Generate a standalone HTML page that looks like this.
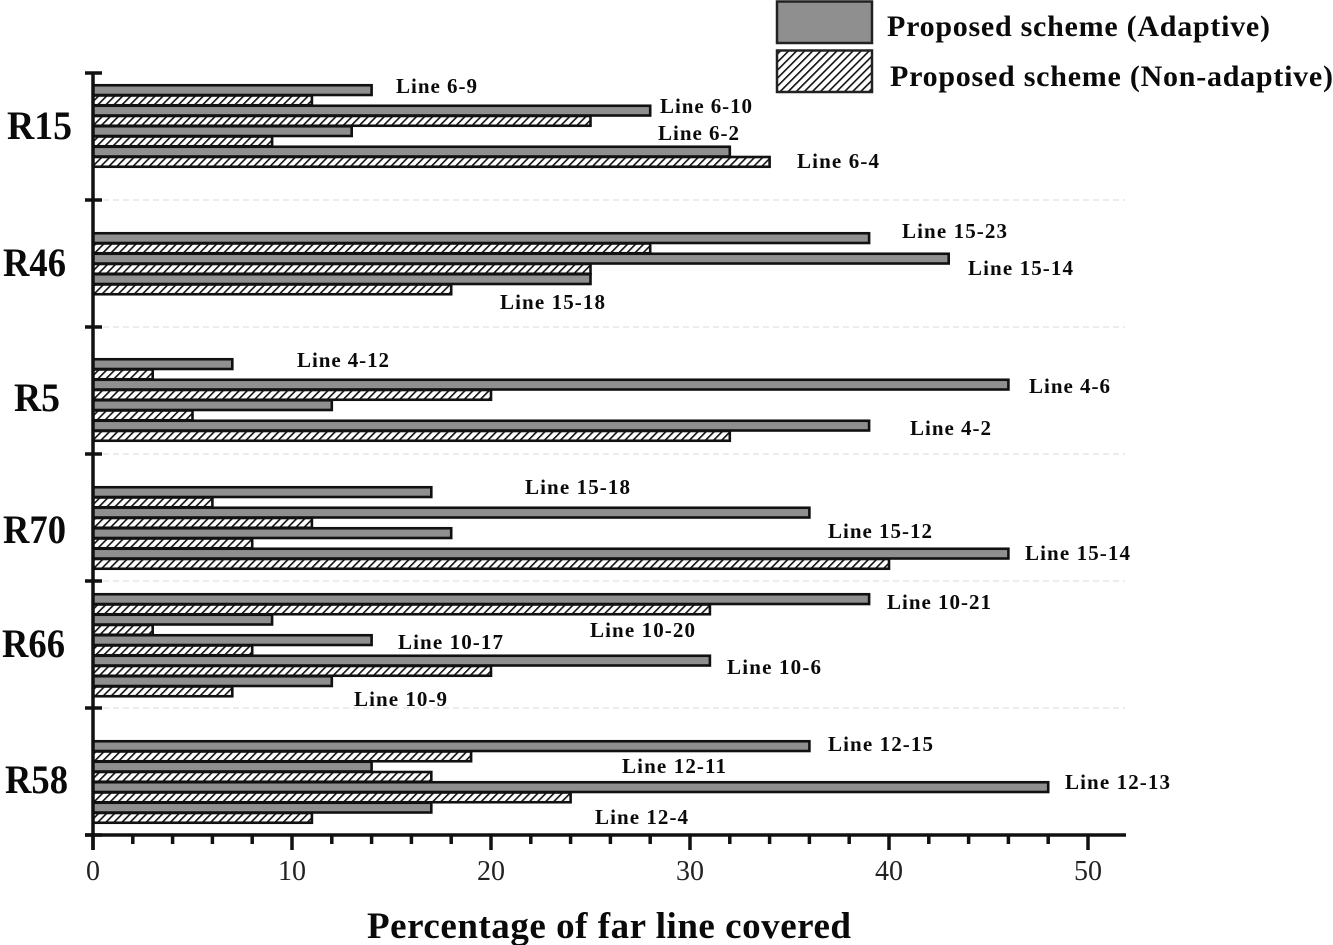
<!DOCTYPE html>
<html lang="en">
<head>
<meta charset="utf-8">
<title>Percentage of far line covered</title>
<style>
html,body{margin:0;padding:0;background:#fff;width:1333px;height:945px;overflow:hidden}
svg{display:block}
text{font-family:"Liberation Serif",serif;fill:#0a0a0a}
.ann{font-size:21px;font-weight:bold}
.grp{font-size:40px;font-weight:bold}
.leg{font-size:30px;font-weight:bold}
.tick{font-size:28px;text-anchor:middle;fill:#222}
</style>
</head>
<body>
<svg id="chart" xmlns="http://www.w3.org/2000/svg" width="1333" height="945" viewBox="0 0 1333 945">
  <defs>
    <pattern id="hatch" patternUnits="userSpaceOnUse" width="5.7" height="5.7" patternTransform="rotate(45)">
      <rect width="5.7" height="5.7" fill="#fff"></rect>
      <rect x="0" y="0" width="1.6" height="5.7" fill="#111"></rect>
    </pattern>
  </defs>
  <g id="grid"></g>
  <g id="bars"></g>
  <g id="axes"></g>

  <g>
    <rect x="777" y="1.5" width="95" height="41.5" fill="#8f8f8f" stroke="#222" stroke-width="2.5"></rect>
    <text class="leg" x="887" y="36" textLength="383" lengthAdjust="spacing">Proposed scheme (Adaptive)</text>
    <rect x="777" y="50.5" width="95" height="41.5" fill="url(#hatch)" stroke="#222" stroke-width="2.5"></rect>
    <text class="leg" x="890" y="86" textLength="443" lengthAdjust="spacing">Proposed scheme (Non-adaptive)</text>
  </g>

  <g>
    <text class="grp" x="7" y="139" textLength="65" lengthAdjust="spacingAndGlyphs">R15</text>
    <text class="grp" x="3" y="276" textLength="63" lengthAdjust="spacingAndGlyphs">R46</text>
    <text class="grp" x="14" y="411" textLength="46" lengthAdjust="spacingAndGlyphs">R5</text>
    <text class="grp" x="3" y="543" textLength="63" lengthAdjust="spacingAndGlyphs">R70</text>
    <text class="grp" x="2" y="657" textLength="63" lengthAdjust="spacingAndGlyphs">R66</text>
    <text class="grp" x="5" y="793" textLength="63" lengthAdjust="spacingAndGlyphs">R58</text>
  </g>

  <g transform="translate(0,1)">
    <text class="ann" x="396" y="92" textLength="81">Line 6-9</text>
    <text class="ann" x="660" y="112" textLength="92">Line 6-10</text>
    <text class="ann" x="658" y="139" textLength="81">Line 6-2</text>
    <text class="ann" x="797" y="167" textLength="82">Line 6-4</text>
    <text class="ann" x="902" y="237" textLength="105">Line 15-23</text>
    <text class="ann" x="968" y="274" textLength="105">Line 15-14</text>
    <text class="ann" x="500" y="308" textLength="105">Line 15-18</text>
    <text class="ann" x="297" y="366" textLength="92">Line 4-12</text>
    <text class="ann" x="1029" y="392" textLength="81">Line 4-6</text>
    <text class="ann" x="910" y="434" textLength="81">Line 4-2</text>
    <text class="ann" x="525" y="493" textLength="105">Line 15-18</text>
    <text class="ann" x="828" y="537" textLength="104">Line 15-12</text>
    <text class="ann" x="1025" y="559" textLength="105">Line 15-14</text>
    <text class="ann" x="887" y="608" textLength="104">Line 10-21</text>
    <text class="ann" x="590" y="636" textLength="105">Line 10-20</text>
    <text class="ann" x="398" y="648" textLength="105">Line 10-17</text>
    <text class="ann" x="727" y="673" textLength="94">Line 10-6</text>
    <text class="ann" x="354" y="705" textLength="93">Line 10-9</text>
    <text class="ann" x="828" y="750" textLength="105">Line 12-15</text>
    <text class="ann" x="622" y="772" textLength="104">Line 12-11</text>
    <text class="ann" x="1065" y="788" textLength="105">Line 12-13</text>
    <text class="ann" x="595" y="823" textLength="93">Line 12-4</text>
  </g>

  <text x="367" y="938" font-size="37" font-weight="bold" textLength="484" lengthAdjust="spacing">Percentage of far line covered</text>
</svg>

<script>
// Chart data (top to bottom within each group: one adaptive / non-adaptive pair per line)
var groups = ['R15', 'R46', 'R5', 'R70', 'R66', 'R58'];
var adaptive = [
  [14, 28, 13, 32],
  [39, 43, 25],
  [7, 46, 12, 39],
  [17, 36, 18, 46],
  [39, 9, 14, 31, 12],
  [36, 14, 48, 17]
];
var nonAdaptive = [
  [11, 25, 9, 34],
  [28, 25, 18],
  [3, 20, 5, 32],
  [6, 11, 8, 40],
  [31, 3, 8, 20, 7],
  [19, 17, 24, 11]
];
var xTickLabels = [0, 10, 20, 30, 40, 50];

var NS = 'http://www.w3.org/2000/svg';
var X0 = 93, X_UNIT = 19.9, Y_TOP = 73, BAND = 127, BAR_H = 10.25, X_END = 1125;
// Vertical inset of each group's first bar inside its axis band (layout only).
var groupInset = [12, 33, 32, 33, 13, 33];

function xScale(v) { return X0 + v * X_UNIT; }
function bandTop(i) { return Y_TOP + i * BAND; }

function make(tag, attrs, parent) {
  var el = document.createElementNS(NS, tag);
  for (var k in attrs) { el.setAttribute(k, attrs[k]); }
  parent.appendChild(el);
  return el;
}

var gridG = document.getElementById('grid');
var barsG = document.getElementById('bars');
var axesG = document.getElementById('axes');

// dashed separators between groups
groups.forEach(function (g, i) {
  if (i === 0) { return; }
  var line = make('line', { x1: X0, x2: X_END, y1: bandTop(i), y2: bandTop(i), stroke: '#d8d8d8', 'stroke-width': 1, 'stroke-dasharray': '6 4' }, gridG);
  
  
});

// bars
function drawBar(value, y, fill, name) {
  var r = make('rect', { x: X0, y: y + 0.25, width: xScale(value) - X0, height: BAR_H - 0.5, fill: fill, stroke: '#111', 'stroke-width': 2.6 }, barsG);
  
  
}
groups.forEach(function (g, i) {
  var y = bandTop(i) + groupInset[i];
  adaptive[i].forEach(function (v, j) {
    drawBar(v, y, '#8f8f8f', 'bar-' + g.toLowerCase() + '-adaptive-' + (j + 1));
    y += BAR_H;
    drawBar(nonAdaptive[i][j], y, 'url(#hatch)', 'bar-' + g.toLowerCase() + '-non-adaptive-' + (j + 1));
    y += BAR_H;
  });
});

// y axis
var yAxis = make('line', { x1: X0, x2: X0, y1: Y_TOP - 1, y2: bandTop(groups.length) + 15, stroke: '#111', 'stroke-width': 3.5 }, axesG);


for (var t = 0; t <= groups.length; t++) {
  var yt = make('line', { x1: 85, x2: 102, y1: bandTop(t), y2: bandTop(t), stroke: '#111', 'stroke-width': 3.5 }, axesG);
  
  
}

// x axis
var xAxis = make('line', { x1: 85, x2: X_END + 1, y1: bandTop(groups.length), y2: bandTop(groups.length), stroke: '#111', 'stroke-width': 3.5 }, axesG);



var axisY = bandTop(groups.length);
var maxTick = xTickLabels[xTickLabels.length - 1];
for (var m = 2; m < maxTick; m += 2) {
  if (m % 10 === 0) { continue; }
  var minor = make('line', { x1: xScale(m), x2: xScale(m), y1: axisY, y2: axisY + 9, stroke: '#111', 'stroke-width': 3.5 }, axesG);
  
  
}
xTickLabels.forEach(function (v) {
  var major = make('line', { x1: xScale(v), x2: xScale(v), y1: axisY, y2: axisY + 15, stroke: '#111', 'stroke-width': 3.5 }, axesG);
  
  
  var label = make('text', { x: xScale(v), y: 880, 'class': 'tick' }, axesG);
  
  
  label.textContent = String(v);
});
</script>
</body>
</html>
